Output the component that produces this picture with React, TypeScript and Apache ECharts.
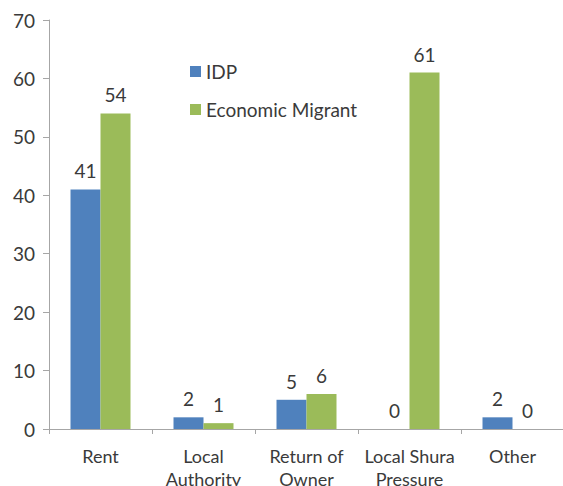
import React, { useEffect, useRef } from "react";
import * as echarts from "echarts";

const categories = ["Rent", "Local\nAuthority", "Return of\nOwner", "Local Shura\nPressure", "Other"];
const idpValues = [41, 2, 5, 0, 2];
const migrantValues = [54, 1, 6, 61, 0];
const yTicks = { min: 0, max: 70, interval: 10 };

const FONT = "Lato, 'Open Sans', sans-serif";
const TEXT = "#3a3a3a";
const AXIS = "#a6a6a6";

export default function App() {
  const ref = useRef<HTMLDivElement>(null);
  useEffect(() => {
    if (!ref.current) return;
    const chart = echarts.init(ref.current, undefined, { renderer: "svg" });
    const label = {
      show: true,
      position: "top",
      distance: 9,
      color: TEXT,
      fontSize: 19,
      fontFamily: FONT,
    };
    chart.setOption({
      animation: false,
      backgroundColor: "#ffffff",
      textStyle: { fontFamily: FONT },
      grid: { left: 49, top: 20, right: -1, bottom: 57, outerBoundsMode: "none", containLabel: false },
      legend: {
        orient: "vertical",
        left: 190,
        top: 62,
        padding: 0,
        itemWidth: 11,
        itemHeight: 11,
        itemGap: 19,
        icon: "rect",
        textStyle: { color: TEXT, fontSize: 19, fontFamily: FONT },
        data: ["IDP", "Economic Migrant"],
      },
      xAxis: {
        type: "category",
        data: categories,
        axisLine: { lineStyle: { color: AXIS } },
        axisTick: { show: true, length: 5, lineStyle: { color: AXIS } },
        axisLabel: {
          color: TEXT,
          fontSize: 18,
          fontFamily: FONT,
          lineHeight: 23,
          margin: 15,
          interval: 0,
        },
      },
      yAxis: {
        type: "value",
        min: yTicks.min,
        max: yTicks.max,
        interval: yTicks.interval,
        axisLine: { show: true, lineStyle: { color: AXIS } },
        axisTick: { show: true, length: 6, lineStyle: { color: AXIS } },
        splitLine: { show: false },
        axisLabel: { color: TEXT, fontSize: 19, fontFamily: FONT, margin: 14 },
      },
      series: [
        {
          name: "IDP",
          type: "bar",
          data: idpValues,
          itemStyle: { color: "#4F81BD" },
          barWidth: 30,
          barGap: "0%",
          label,
        },
        {
          name: "Economic Migrant",
          type: "bar",
          data: migrantValues,
          itemStyle: { color: "#9BBB59" },
          barWidth: 30,
          barGap: "0%",
          label,
        },
      ],
    });
    return () => chart.dispose();
  }, []);
  return (
    <div
      ref={ref}
      style={{ position: "absolute", left: 0, top: 0, width: 563, height: 486 }}
    />
  );
}
